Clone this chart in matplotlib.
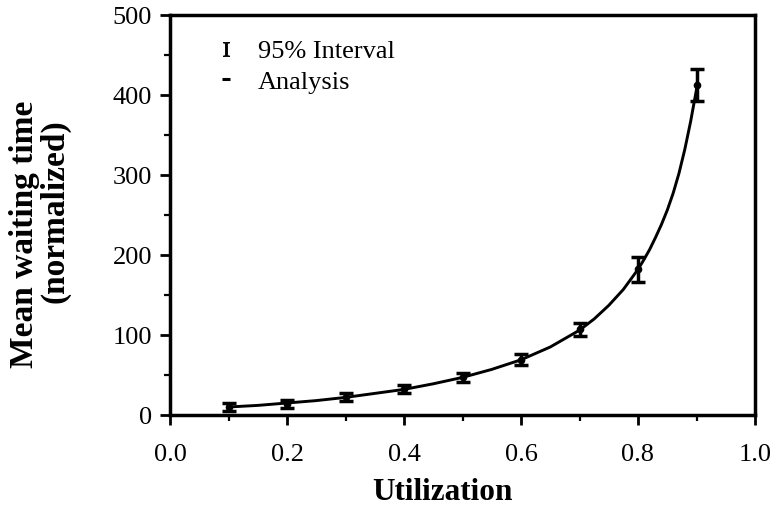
import matplotlib.pyplot as plt
from matplotlib.ticker import MultipleLocator
from matplotlib.lines import Line2D

# simulation results (mean and half width of 95% interval)
util = [0.1, 0.2, 0.3, 0.4, 0.5, 0.6, 0.7, 0.8, 0.9]
sim_mean = [10, 14, 23, 32, 47, 69, 107, 182, 412]
sim_err = [5, 5, 5, 5, 6, 7, 8, 16, 20]

# analysis curve
curve_x = [0.10, 0.15, 0.20, 0.25, 0.30, 0.35, 0.40, 0.45, 0.50, 0.55, 0.60,
           0.65, 0.70, 0.725, 0.75, 0.775, 0.80, 0.81, 0.82, 0.83, 0.84,
           0.85, 0.86, 0.87, 0.88, 0.89, 0.90]
curve_y = [10, 12, 15, 18, 22, 27, 32, 39, 47, 57, 69,
           85, 106, 120, 137, 157, 182, 194, 207, 222, 238,
           256, 277, 302, 332, 367, 407]

plt.rcParams['font.family'] = ['Liberation Serif', 'DejaVu Serif']
plt.rcParams['mathtext.fontset'] = 'stix'

W, H = 771, 513
fig = plt.figure(figsize=(W / 100, H / 100), dpi=100)
# axes box: x 170..755 px, y 15..415 px
ax = fig.add_axes([170 / W, 1 - 415 / H, 585 / W, 400 / H])

ax.plot(curve_x, curve_y, color='black', lw=2.1, solid_joinstyle='round')
ax.errorbar(util, sim_mean, yerr=sim_err, fmt='o', ms=4.5, color='black',
            ecolor='black', elinewidth=2.5, capsize=5, capthick=2.5, zorder=3)

ax.set_xlim(0, 1.0)
ax.set_ylim(0, 500)
ax.xaxis.set_major_locator(MultipleLocator(0.2))
ax.xaxis.set_minor_locator(MultipleLocator(0.1))
ax.yaxis.set_major_locator(MultipleLocator(100))
ax.yaxis.set_minor_locator(MultipleLocator(50))
ax.xaxis.set_major_formatter(plt.FuncFormatter(lambda v, p: f'{v:.1f}'))
ax.tick_params(which='major', direction='out', length=7, width=2, labelsize=19)
ax.tick_params(which='minor', direction='out', length=4, width=1.6)
ax.tick_params(axis='x', which='major', pad=14)
ax.tick_params(axis='y', which='major', pad=6)
for s in ax.spines.values():
    s.set_linewidth(2.5)

fig.text(443 / W, 1 - 492 / H, 'Utilization', fontsize=22.5, fontweight='bold',
         ha='center', va='center')
fig.text(25 / W, 1 - 234 / H, 'Mean waiting time', fontsize=24, fontweight='bold',
         rotation=90, ha='center', va='center')
fig.text(55 / W, 1 - 211 / H, '(normalized)', fontsize=24, fontweight='bold',
         rotation=90, ha='center', va='center')

interval_handle = Line2D([], [], ls='none', marker=r'$\mathrm{I}$', ms=10,
                         color='black', mew=0.6)
analysis_handle = Line2D([], [], ls='none', marker='_', ms=6, mew=2.2,
                         color='black')
fig.legend(handles=[interval_handle, analysis_handle],
           labels=['95% Interval', 'Analysis'],
           loc='upper left', bbox_to_anchor=(218 / W, 1 - 40 / H),
           frameon=False, fontsize=19, handlelength=0.6, handletextpad=0.9,
           labelspacing=0.25, borderpad=0, borderaxespad=0)

fig.savefig('out.png', dpi=100)
